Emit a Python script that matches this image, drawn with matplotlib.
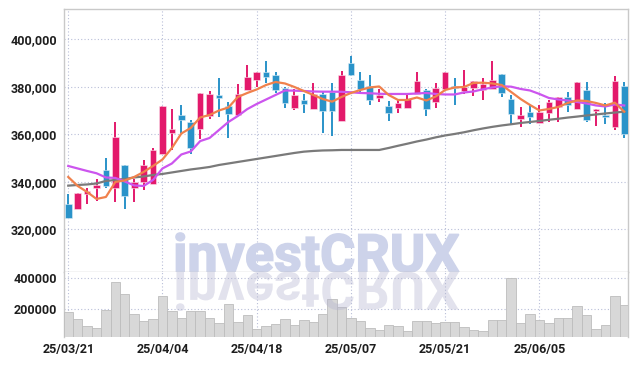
import matplotlib
matplotlib.use("Agg")
import matplotlib.pyplot as plt
from matplotlib.textpath import TextPath
from matplotlib.patches import PathPatch
from matplotlib.font_manager import FontProperties
from matplotlib.transforms import Affine2D
from matplotlib.ticker import FuncFormatter

# ---- data (daily candles, 25/03/21 .. 25/06/19) ----
opens = [330650, 328670, 335000, 337520, 344970, 337520, 346950, 337520, 340040, 339200,
         351580, 360670, 368130, 365310, 362360, 367830, 376550, 371920, 368250, 378780,
         382740, 386230, 385100, 379620, 371070, 374440, 370780, 376970, 377940, 365600,
         390150, 382870, 380340, 375410, 371920, 370950, 370950, 376840, 378650, 373600,
         378950, 380340, 378360, 379620, 378650, 378950, 385390, 374860, 366320, 369390,
         364890, 369100, 371370, 375710, 370650, 378650, 369690, 368000, 363200, 380210]
closes = [324800, 335290, 336130, 338780, 338230, 358740, 334150, 339790, 346950, 353390,
          371920, 362110, 366020, 354110, 377520, 376840, 375410, 368550, 376970, 384130,
          386230, 384250, 378650, 373310, 376550, 372760, 376970, 369940, 369940, 384970,
          385100, 379080, 374440, 376550, 369100, 373050, 374740, 382320, 370530, 379370,
          386110, 379500, 379790, 382440, 381180, 382870, 377260, 368670, 368000, 367410,
          369520, 373730, 375710, 372210, 382020, 366020, 370650, 367410, 382320, 360250]
highs = [334860, 335290, 337520, 341050, 349900, 365050, 346950, 341050, 349180, 354360,
         371920, 370530, 372210, 366000, 377520, 378230, 383830, 373730, 381050, 389050,
         386230, 390860, 386110, 380000, 378950, 376840, 381730, 377940, 381470, 386780,
         392970, 386110, 384970, 379080, 374020, 374440, 376840, 386110, 379080, 381470,
         386110, 383830, 386950, 382440, 383830, 390740, 385390, 376550, 371620, 372210,
         372500, 374440, 375710, 377940, 382020, 382150, 370650, 373050, 384670, 382150]
lows = [324800, 328670, 330650, 331920, 337260, 331370, 328540, 331370, 336550, 339200,
        351580, 353390, 360670, 351710, 358020, 366600, 367160, 358320, 367500, 378780,
        380040, 381470, 377260, 371200, 370100, 368840, 370780, 360420, 359410, 365600,
        384400, 377520, 372210, 373470, 365600, 369100, 370950, 376840, 367710, 370950,
        378950, 372340, 376840, 376130, 374440, 378950, 375580, 363920, 362950, 364210,
        364890, 365050, 365050, 369260, 370650, 365310, 363620, 364210, 361810, 358320]
volumes = [178500, 132900, 89200, 74300, 193500, 373900, 295800, 165500, 119900, 132900,
           282700, 185000, 139400, 185000, 185000, 139400, 106800, 230600, 113300, 158900,
           67700, 87300, 100300, 132900, 93800, 126400, 113300, 165500, 263200, 213000,
           139400, 119900, 74300, 61200, 93800, 87300, 54700, 119900, 119900, 106800,
           113300, 113300, 80800, 61200, 54700, 126400, 126400, 400000, 106800, 165500,
           126400, 106800, 139400, 139400, 217600, 158900, 67700, 93800, 282700, 224100]
ma_short = [342020, 338230, 335710, 332760, 333600, 339920, 340550, 342020, 344130, 346660,
            349390, 354230, 360330, 362650, 367070, 368130, 370020, 371290, 375710, 377390,
            378870, 380760, 382020, 381390, 379910, 378230, 376550, 374860, 373730, 375710,
            377390, 378650, 379710, 380130, 376550, 374440, 374440, 375490, 374230, 375920,
            378650, 379710, 379910, 381600, 381730, 381390, 380760, 377810, 374860, 372340,
            370020, 370650, 371490, 373180, 374230, 374020, 373180, 372130, 373310, 369520]
ma_mid = [346650, 345600, 344550, 343580, 341810, 341600, 340130, 338440, 338230, 340760,
          345600, 347700, 351490, 352760, 357130, 358440, 361810, 365180, 367710, 370600,
          372760, 374650, 376550, 378440, 378360, 378230, 378020, 377940, 377940, 377890,
          377680, 377390, 377260, 377050, 376970, 376970, 376970, 377180, 377390, 376970,
          376760, 376760, 377600, 378020, 378950, 379710, 380210, 380040, 379080, 378440,
          376970, 375290, 374650, 374230, 373600, 372970, 372130, 371710, 372550, 372130]
ma_long = [338360, 338650, 338860, 339280, 340340, 340760, 341180, 341810, 342230, 342860,
           343290, 343920, 344550, 345180, 345680, 346230, 347070, 347700, 348340, 348970,
           349600, 350230, 350860, 351500, 352130, 352670, 352970, 353180, 353260, 353390,
           353390, 353390, 353390, 353390, 354230, 355160, 356040, 356970, 357770, 358700,
           359500, 360130, 360840, 361680, 362440, 363120, 363710, 364210, 364760, 365180,
           365600, 366110, 366530, 367030, 367450, 367920, 368340, 368760, 369140, 369520]
tick_idx = [0, 10, 20, 30, 40, 50]
tick_labels = ["25/03/21", "25/04/04", "25/04/18", "25/05/07", "25/05/21", "25/06/05"]
price_ticks = [320000, 340000, 360000, 380000, 400000]
volume_ticks = [200000, 400000]

UP = "#e3196b"
DOWN = "#2a93c9"
GRID = "#b9bfd8"
SPINE = "#c9c9c9"
LABEL_FAMILY = ["Roboto", "DejaVu Sans"]

fig = plt.figure(figsize=(6.37, 3.66), dpi=100)
W, H = 637, 366
ax1 = fig.add_axes([64 / W, 1 - 272 / H, 564 / W, 263 / H])
ax2 = fig.add_axes([64 / W, 1 - 337 / H, 564 / W, 65 / H], sharex=ax1)

x = list(range(len(opens)))

###########################################
#              Candlesticks               #
###########################################
for i in x:
    o, c = opens[i], closes[i]
    col = UP if c >= o else DOWN
    ax1.vlines(i, lows[i], highs[i], color=col, linewidth=1.4, zorder=3)
    ax1.bar(i, max(abs(c - o), 400), bottom=min(o, c), width=0.7, color=col,
            edgecolor="#fbe3ec" if col == UP else "#dcedf6", linewidth=0.4, zorder=4)

ax1.plot(x, ma_long, color="#7a7a7a", linewidth=1.6, zorder=5)
ax1.plot(x, ma_mid, color="#cc55ee", linewidth=1.6, zorder=5)
ax1.plot(x, ma_short, color="#f0814c", linewidth=1.6, zorder=6)

ax1.set_xlim(-0.45, len(opens) - 0.6)
ax1.set_ylim(302000, 412750)
ax1.set_yticks(price_ticks)
ax1.yaxis.set_major_formatter(FuncFormatter(lambda v, p: f"{int(v):,}"))

###########################################
#                 Volume                  #
###########################################
ax2.bar(x, volumes, width=1.0, color="#d8d8d8", edgecolor="#bdbdbd", linewidth=0.6, zorder=3)
ax2.set_ylim(15600, 441000)
ax2.set_yticks(volume_ticks)
ax2.yaxis.set_major_formatter(FuncFormatter(lambda v, p: f"{int(v)}"))
ax2.set_xticks(tick_idx)
ax2.set_xticklabels(tick_labels)

for ax in (ax1, ax2):
    ax.grid(True, linestyle=(0, (1, 2)), color=GRID, linewidth=0.8, zorder=0)
    ax.set_axisbelow(True)
    ax.tick_params(length=0, pad=5, colors="#1e1e1e")
    for lab in ax.get_yticklabels() + ax.get_xticklabels():
        lab.set_fontfamily(LABEL_FAMILY)
        lab.set_fontsize(9)
        lab.set_fontweight("bold")
    for s in ax.spines.values():
        s.set_color(SPINE)
        s.set_linewidth(1.0)
ax1.tick_params(labelbottom=False)
ax2.spines["top"].set_visible(False)
ax2.spines["bottom"].set_visible(False)
ax2.tick_params(axis="x", pad=4)

###########################################
#               Watermark                 #
###########################################
tp = TextPath((0, 0), "investCRUX", size=100,
              prop=FontProperties(family=["Roboto", "DejaVu Sans"], weight="bold"))
ext = tp.get_extents()
sx = 283 / ext.width
sy = 39 / ext.y1
base = H - 272
up = Affine2D().translate(-ext.x0, 0).scale(sx, sy).translate(176, base)
down = Affine2D().translate(-ext.x0, 0).scale(sx, -sy).translate(176, base)
# upright word sits on empty plot area only, so an opaque tint with a stroke thickens it
ax1.add_artist(PathPatch(tp, transform=up, facecolor="#cdd3ea", edgecolor="#cdd3ea",
                         linewidth=1.2, zorder=1))
fig.add_artist(PathPatch(tp, transform=down, facecolor="#b4b4d0", edgecolor="none",
                         alpha=0.38, zorder=10))

fig.savefig("out.png", dpi=100)
